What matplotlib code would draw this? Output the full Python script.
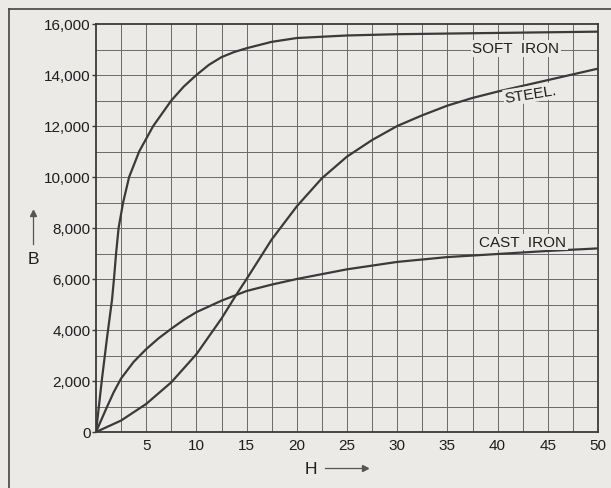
import matplotlib.pyplot as plt
from matplotlib.lines import Line2D

# B-H magnetisation curves
h_soft = [0, 0.6, 1.1, 1.6, 1.8, 2, 2.25, 2.7, 3.3, 4.3, 5.7, 7.5, 8.75, 10, 11.25,
          12.5, 13.75, 15, 17.5, 20, 25, 30, 40, 50]
b_soft = [0, 2100, 3700, 5200, 6050, 7000, 8000, 9000, 10000, 11000, 12000, 13000, 13550,
          14000, 14400, 14700, 14900, 15050, 15300, 15450, 15550, 15600, 15650, 15700]

h_steel = [0, 2.5, 5, 7.5, 10, 12.5, 14, 15, 17.5, 20, 22.5, 25, 27.5, 30, 32.5, 35,
           37.5, 40, 45, 50]
b_steel = [0, 450, 1100, 1950, 3050, 4450, 5400, 6000, 7550, 8850, 9950, 10800, 11450,
           12000, 12420, 12800, 13100, 13350, 13800, 14250]

h_cast = [0, 1, 1.75, 2.5, 3.75, 5, 6.25, 7.5, 8.75, 10, 12.5, 15, 17.5, 20, 25, 30,
          35, 40, 45, 50]
b_cast = [0, 900, 1550, 2100, 2750, 3250, 3680, 4050, 4400, 4700, 5150, 5530, 5780,
          6000, 6380, 6670, 6860, 6980, 7100, 7200]

x_ticks = [5, 10, 15, 20, 25, 30, 35, 40, 45, 50]
y_ticks = [0, 2000, 4000, 6000, 8000, 10000, 12000, 14000, 16000]

paper = '#ebeae7'
ink = '#3a3a3a'
txt = '#1e1e1e'
font = 'Liberation Sans'

fig = plt.figure(figsize=(6.11, 4.89), dpi=100, facecolor=paper)
ax = fig.add_axes([96 / 611, 1 - 433 / 489, 502 / 611, 408 / 489])
ax.set_facecolor(paper)

# fine grid: every 2.5 on H, every 1000 on B
for gx in [i * 2.5 for i in range(1, 20)]:
    ax.axvline(gx, color='#6a6a6a', lw=0.7, zorder=1)
for gy in range(1000, 16000, 1000):
    ax.axhline(gy, color='#6a6a6a', lw=0.7, zorder=1)

ax.plot(h_soft, b_soft, color=ink, lw=1.6, zorder=3)
ax.plot(h_steel, b_steel, color=ink, lw=1.6, zorder=3)
ax.plot(h_cast, b_cast, color=ink, lw=1.6, zorder=3)

ax.set_xlim(0, 50)
ax.set_ylim(0, 16000)
for s in ax.spines.values():
    s.set_color(ink)
    s.set_linewidth(1.3)

ax.set_xticks(x_ticks)
ax.set_xticklabels([str(v) for v in x_ticks], fontfamily=font, fontsize=11, color=txt)
ax.set_yticks(y_ticks)
ax.set_yticklabels([f'{v:,}' for v in y_ticks], fontfamily=font, fontsize=11, color=txt)
ax.tick_params(axis='x', length=0, pad=4)
ax.tick_params(axis='y', length=3, width=1, color=ink, pad=1)

# curve labels
box = dict(facecolor=paper, edgecolor='none', pad=1.0)
ax.text(41.8, 15050, 'SOFT  IRON', fontfamily=font, fontsize=11, ha='center', va='center',
        color=txt, bbox=box, zorder=4)
ax.text(43.3, 13250, 'STEEL.', fontfamily=font, fontsize=11, ha='center', va='center',
        color=txt, rotation=9, bbox=box, zorder=4)
ax.text(42.5, 7450, 'CAST  IRON', fontfamily=font, fontsize=11, ha='center', va='center',
        color=txt, bbox=box, zorder=4)

# axis names with arrows
fig.text(33 / 611, 1 - 259 / 489, 'B', fontfamily=font, fontsize=12.5, ha='center',
         va='center', color=txt)
fig.add_artist(Line2D([33 / 611, 33 / 611], [1 - 245 / 489, 1 - 212 / 489],
                      color='#555555', lw=0.9))
fig.add_artist(Line2D([33 / 611], [1 - 214 / 489], marker='^', markersize=4,
                      color='#555555'))
fig.text(311 / 611, 1 - 470 / 489, 'H', fontfamily=font, fontsize=12.5, ha='center',
         va='center', color=txt)
fig.add_artist(Line2D([325 / 611, 366 / 611], [1 - 469 / 489, 1 - 469 / 489],
                      color='#555555', lw=0.9))
fig.add_artist(Line2D([365 / 611], [1 - 469 / 489], marker='>', markersize=4,
                      color='#555555'))

# outer frame of the printed figure
fig.add_artist(Line2D([9 / 611, 9 / 611], [0, 1 - 10 / 489], color='#444444', lw=1.2))
fig.add_artist(Line2D([9 / 611, 1], [1 - 10 / 489, 1 - 10 / 489], color='#444444', lw=1.2))

fig.savefig('out.png', dpi=100, facecolor=paper)
